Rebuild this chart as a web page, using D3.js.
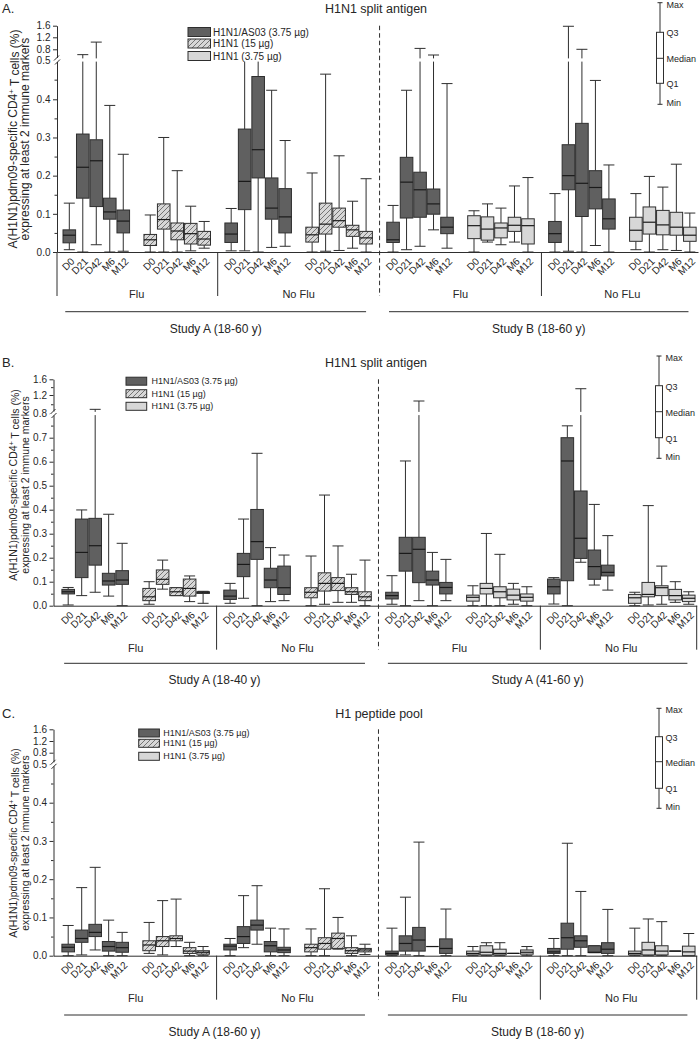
<!DOCTYPE html>
<html><head><meta charset="utf-8">
<script src="https://cdn.jsdelivr.net/npm/d3@7"></script>
<style>
body{margin:0;background:#fff}
svg{display:block}
text{font-family:"Liberation Sans",Arial,sans-serif;fill:#262626}
</style>
</head><body>
<svg id="chart" width="700" height="1040"></svg>
<script>
// ---------- labels ----------
const timepoints = ["D0","D21","D42","M6","M12"];
const vaccineNames = ["H1N1/AS03 (3.75 µg)","H1N1 (15 µg)","H1N1 (3.75 µg)"];
const panelLetters = ["A.","B.","C."];
const panelTitles = ["H1N1 split antigen","H1N1 split antigen","H1 peptide pool"];
const groupLabelsA = ["Flu","No Flu","Flu","No FLu"];
const groupLabelsBC = ["Flu","No Flu","Flu","No Flu"];
const studyLabelsA = ["Study A (18-60 y)","Study B (18-60 y)"];
const studyLabelsB = ["Study A (18-40 y)","Study A (41-60 y)"];
const studyLabelsC = ["Study A (18-60 y)","Study B (18-60 y)"];
const keyLabels = ["Max","Q3","Median","Q1","Min"];
const yLabelLine1 = ["A(H1N1)pdm09-specific CD4","+"," T cells (%)"];
const yLabelLine2 = "expressing at least 2 immune markers";
const majorTicksAC = [0,0.1,0.2,0.3,0.4,0.5,0.8,1.2,1.6];
const minorTicksAC = [0.05,0.15,0.25,0.35,0.45];
const majorTicksB = [0,0.1,0.2,0.3,0.4,0.5,0.6,0.7,0.8,1.2,1.6];
const minorTicksB = [0.05,0.15,0.25,0.35,0.45,0.55,0.65,0.75,1.0,1.4];

// ---------- data: [min, Q1, median, Q3, max] for D0, D21, D42, M6, M12 ----------
// Panel A
const A_studyA_flu_AS03   = [[0.006,0.024,0.044,0.058,0.128],[0.0,0.141,0.222,0.309,0.65],[0.019,0.119,0.239,0.294,1.04],[0.0,0.086,0.105,0.141,0.384],[0.002,0.05,0.081,0.11,0.256]];
const A_studyA_flu_15     = [[0.0,0.017,0.032,0.046,0.097],[0.0,0.06,0.085,0.126,0.3],[0.0,0.032,0.055,0.076,0.213],[0.003,0.021,0.048,0.075,0.12],[0.01,0.018,0.034,0.054,0.08]];
const A_studyA_noflu_AS03 = [[0.003,0.025,0.047,0.076,0.114],[0.003,0.111,0.185,0.322,0.6],[0.0,0.194,0.268,0.458,0.55],[0.012,0.086,0.115,0.194,0.423],[0.015,0.05,0.092,0.166,0.292]];
const A_studyA_noflu_15   = [[0.0,0.026,0.045,0.065,0.207],[0.002,0.047,0.073,0.128,0.464],[0.004,0.065,0.082,0.115,0.252],[0.01,0.041,0.058,0.07,0.133],[0.0,0.021,0.037,0.054,0.192]];
const A_studyB_flu_AS03   = [[0.0,0.025,0.032,0.078,0.122],[0.006,0.089,0.183,0.248,0.423],[0.015,0.091,0.163,0.209,0.83],[0.058,0.099,0.126,0.165,0.64],[0.01,0.048,0.065,0.091,0.44]];
const A_studyB_flu_375    = [[0.0,0.035,0.069,0.095,0.108],[0.026,0.031,0.06,0.092,0.126],[0.019,0.037,0.063,0.076,0.115],[0.026,0.054,0.07,0.091,0.173],[0.0,0.021,0.069,0.087,0.195]];
const A_studyB_noflu_AS03 = [[0.0,0.025,0.048,0.08,0.153],[0.002,0.163,0.2,0.281,1.58],[0.0,0.093,0.18,0.337,0.8],[0.017,0.113,0.169,0.213,0.448],[0.0,0.06,0.087,0.139,0.228]];
const A_studyB_noflu_375  = [[0.006,0.028,0.057,0.091,0.153],[0.0,0.047,0.078,0.118,0.198],[0.006,0.045,0.071,0.109,0.17],[0.004,0.044,0.065,0.104,0.23],[0.0,0.028,0.044,0.065,0.102]];
// Panel B
const B_young_flu_AS03    = [[0.003,0.049,0.058,0.068,0.076],[0.042,0.117,0.222,0.361,0.399],[0.056,0.169,0.25,0.364,0.89],[0.04,0.086,0.103,0.135,0.381],[0.0,0.089,0.107,0.146,0.26]];
const B_young_flu_15      = [[0.006,0.021,0.037,0.072,0.1],[0.069,0.089,0.11,0.149,0.19],[0.042,0.042,0.058,0.075,0.075],[0.017,0.04,0.072,0.111,0.124],[0.01,0.051,0.056,0.058,0.06]];
const B_young_noflu_AS03  = [[0.01,0.026,0.04,0.065,0.093],[0.031,0.121,0.172,0.218,0.361],[0.0,0.193,0.267,0.401,0.635],[0.017,0.075,0.107,0.156,0.242],[0.021,0.047,0.075,0.165,0.211]];
const B_young_noflu_15    = [[0.0,0.033,0.056,0.075,0.207],[0.006,0.061,0.093,0.137,0.461],[0.014,0.063,0.093,0.117,0.249],[0.014,0.047,0.058,0.075,0.131],[0.0,0.021,0.037,0.058,0.19]];
const B_old_flu_AS03      = [[0.006,0.028,0.042,0.056,0.125],[0.0,0.144,0.218,0.285,0.603],[0.021,0.096,0.235,0.285,1.07],[0.0,0.086,0.107,0.144,0.222],[0.021,0.049,0.076,0.097,0.193]];
const B_old_flu_375       = [[0.0,0.019,0.035,0.044,0.083],[0.0,0.049,0.072,0.093,0.301],[0.0,0.033,0.058,0.079,0.214],[0.006,0.024,0.044,0.069,0.093],[0.0,0.019,0.035,0.049,0.079]];
const B_old_noflu_AS03    = [[0.007,0.049,0.079,0.111,0.117],[0.0,0.104,0.603,0.7,0.749],[0.181,0.197,0.281,0.478,1.36],[0.086,0.11,0.163,0.232,0.422],[0.065,0.124,0.139,0.169,0.292]];
const B_old_noflu_375     = [[0.0,0.01,0.033,0.047,0.056],[0.003,0.037,0.047,0.097,0.417],[0.006,0.042,0.075,0.083,0.165],[0.014,0.024,0.042,0.068,0.1],[0.006,0.017,0.031,0.044,0.058]];
// Panel C
const C_studyA_flu_AS03   = [[0.0,0.01,0.022,0.03,0.079],[0.002,0.035,0.045,0.067,0.178],[0.015,0.05,0.061,0.082,0.231],[0.0,0.012,0.024,0.037,0.093],[0.0,0.009,0.021,0.035,0.061]];
const C_studyA_flu_15     = [[0.006,0.013,0.028,0.039,0.087],[0.002,0.024,0.039,0.05,0.144],[0.024,0.039,0.045,0.052,0.148],[0.0,0.006,0.012,0.021,0.035],[0.0,0.004,0.009,0.013,0.024]];
const C_studyA_noflu_AS03 = [[0.0,0.015,0.025,0.03,0.045],[0.021,0.032,0.05,0.076,0.157],[0.03,0.067,0.08,0.093,0.183],[0.0,0.01,0.026,0.037,0.072],[0.0,0.008,0.015,0.022,0.07]];
const C_studyA_noflu_15   = [[0.0,0.01,0.021,0.03,0.07],[0.0,0.017,0.032,0.047,0.175],[0.017,0.019,0.045,0.059,0.1],[0.0,0.006,0.013,0.021,0.052],[0.003,0.01,0.015,0.019,0.03]];
const C_studyB_flu_AS03   = [[0.0,0.002,0.006,0.012,0.072],[0.002,0.012,0.032,0.052,0.153],[0.0,0.012,0.041,0.074,0.297],[0.024,0.024,0.024,0.024,0.024],[0.0,0.006,0.019,0.044,0.122]];
const C_studyB_flu_375    = [[0.0,0.002,0.006,0.012,0.024],[0.0,0.002,0.009,0.026,0.034],[0.0,0.002,0.006,0.017,0.034],[0.006,0.006,0.006,0.006,0.006],[0.0,0.004,0.009,0.015,0.024]];
const C_studyB_noflu_AS03 = [[0.0,0.006,0.01,0.019,0.045],[0.0,0.017,0.047,0.085,0.294],[0.0,0.022,0.039,0.052,0.168],[0.008,0.008,0.009,0.026,0.026],[0.0,0.006,0.017,0.034,0.121]];
const C_studyB_noflu_375  = [[0.0,0.002,0.006,0.012,0.072],[0.0,0.002,0.015,0.035,0.096],[0.0,0.002,0.012,0.026,0.089],[0.012,0.012,0.012,0.012,0.012],[0.0,0.0,0.01,0.025,0.058]];

// ---------- drawing ----------
const svg = d3.select("#chart");
const defs = svg.append("defs");
const pat = defs.append("pattern").attr("id","hatch").attr("patternUnits","userSpaceOnUse")
  .attr("width",5).attr("height",5);
pat.append("rect").attr("width",5).attr("height",5).attr("fill","#d7d7d7");
pat.append("path").attr("d","M-1,1 L1,-1 M0,5 L5,0 M4,6 L6,4")
  .attr("stroke","#5a5a5a").attr("stroke-width",0.8);

const FILL = {dark:"#606060", hatch:"url(#hatch)", light:"#d7d7d7"};
const STROKE = "#2e2e2e";
const SPACING = 13.49;

const panels = [
  {letter:panelLetters[0], title:panelTitles[0], axisX:57, x0:69.3, xEnd:698,
   yDom:[0,0.4,0.5,0.8,1.2,1.6], yRange:[252,99.3,60,49.3,37.3,25.7], brk:0.5,
   major:majorTicksAC, minor:minorTicksAC,
   series:[A_studyA_flu_AS03,A_studyA_flu_15,A_studyA_noflu_AS03,A_studyA_noflu_15,
           A_studyB_flu_AS03,A_studyB_flu_375,A_studyB_noflu_AS03,A_studyB_noflu_375],
   types:["dark","hatch","dark","hatch","dark","light","dark","light"],
   groups:groupLabelsA, studies:studyLabelsA, leftSep:true, rightSep:false, underY:311.7,
   legend:{x:188,ys:[32,43.5,56],w:22.5,h:9,fs:10,tx:213,bg:true},
   key:{x:660,ys:[2.7,32.3,58.3,83.3,104.3]}, titleX:376, titleY:13, ylabY:139, ylabFs:12},
  {letter:panelLetters[1], title:panelTitles[1], axisX:53.5, x0:68.2, xEnd:696.7,
   yDom:[0,0.7,0.8,1.2,1.6], yRange:[605.7,437.7,413.5,395,379.3], brk:0.8,
   major:majorTicksB, minor:minorTicksB,
   series:[B_young_flu_AS03,B_young_flu_15,B_young_noflu_AS03,B_young_noflu_15,
           B_old_flu_AS03,B_old_flu_375,B_old_noflu_AS03,B_old_noflu_375],
   types:["dark","hatch","dark","hatch","dark","light","dark","light"],
   groups:groupLabelsBC, studies:studyLabelsB, leftSep:false, rightSep:true, underY:663.3,
   legend:{x:126,ys:[381.2,393.7,406.3],w:20.7,h:8,fs:9,tx:151.5,bg:false},
   key:{x:659,ys:[356,385.7,411.7,437.7,458.3]}, titleX:376, titleY:367, ylabY:485, ylabFs:10.5},
  {letter:panelLetters[2], title:panelTitles[2], axisX:53.5, x0:68.2, xEnd:696.7,
   yDom:[0,0.4,0.5,0.8,1.2,1.6], yRange:[955.7,802.7,764.3,752.7,741,729.3], brk:0.5,
   major:majorTicksAC, minor:minorTicksAC,
   series:[C_studyA_flu_AS03,C_studyA_flu_15,C_studyA_noflu_AS03,C_studyA_noflu_15,
           C_studyB_flu_AS03,C_studyB_flu_375,C_studyB_noflu_AS03,C_studyB_noflu_375],
   types:["dark","hatch","dark","hatch","dark","light","dark","light"],
   groups:groupLabelsBC, studies:studyLabelsC, leftSep:false, rightSep:true, underY:1015,
   legend:{x:138.7,ys:[733,743.3,756.3],w:20.7,h:8,fs:9,tx:163.3,bg:false},
   key:{x:659,ys:[708.3,736.7,761.7,788.3,808.3]}, titleX:379, titleY:718, ylabY:843, ylabFs:10.4}
];

function line(g, x1, y1, x2, y2, attrs) {
  const l = g.append("line").attr("x1",x1).attr("y1",y1).attr("x2",x2).attr("y2",y2)
    .attr("stroke",STROKE).attr("stroke-width",1);
  if (attrs) Object.entries(attrs).forEach(([k,v]) => l.attr(k,v));
  return l;
}

panels.forEach(p => {
  const g = svg.append("g");
  const y = d3.scaleLinear().domain(p.yDom).range(p.yRange);
  const sMin = (p.axisX - p.x0) / SPACING, sMax = (p.xEnd - p.x0) / SPACING;
  const x = d3.scaleLinear().domain([sMin, sMax]).range([p.axisX, p.xEnd]);
  const base = y(0), yb = y(p.brk), top = y(1.6);

  // panel letter + title
  g.append("text").attr("x",2).attr("y",p.titleY).attr("font-size",13).text(p.letter);
  g.append("text").attr("x",p.titleX).attr("y",p.titleY).attr("font-size",12.5)
    .attr("text-anchor","middle").text(p.title);

  // y-axis label
  const yl = g.append("text").attr("transform",`translate(17,${p.ylabY}) rotate(-90)`)
    .attr("text-anchor","middle").attr("font-size",p.ylabFs);
  yl.append("tspan").text(yLabelLine1[0]);
  yl.append("tspan").attr("dy","-0.45em").attr("font-size",p.ylabFs*0.65).text(yLabelLine1[1]);
  yl.append("tspan").attr("dy","0.45em").text(yLabelLine1[2]);
  g.append("text").attr("transform",`translate(29,${p.ylabY}) rotate(-90)`)
    .attr("text-anchor","middle").attr("font-size",p.ylabFs).text(yLabelLine2);

  // boxes
  const slotStart = [0,6,12,18,24,30,36,42];
  const bw = 12.6, cw = 11;
  p.series.forEach((arr, k) => {
    arr.forEach((d, i) => {
      const [mn,q1,md,q3,mx] = d;
      const cx = x(slotStart[k] + i);
      const bg = g.append("g");
      // upper whisker
      if (mx > p.brk) {
        line(bg, cx, y(q3), cx, yb + 1.6);
        line(bg, cx, yb - 1.6, cx, y(mx));
      } else line(bg, cx, y(q3), cx, y(mx));
      line(bg, cx - cw/2, y(mx), cx + cw/2, y(mx));
      // lower whisker
      line(bg, cx, y(q1), cx, y(mn));
      line(bg, cx - cw/2, y(mn), cx + cw/2, y(mn));
      // box
      bg.append("rect").attr("x",cx - bw/2).attr("y",y(q3)).attr("width",bw)
        .attr("height",Math.max(0, y(q1) - y(q3)))
        .attr("fill",FILL[p.types[k]]).attr("stroke",STROKE).attr("stroke-width",1);
      line(bg, cx - bw/2, y(md), cx + bw/2, y(md), {"stroke":"#1a1a1a","stroke-width":1.2});
    });
  });

  // y axis
  const yAxis = d3.axisLeft(y).tickValues(p.major).tickFormat(d3.format(".1f"))
    .tickSize(4).tickSizeOuter(0).tickPadding(2.5);
  const ya = g.append("g").attr("transform",`translate(${p.axisX},0)`).call(yAxis);
  ya.select(".domain").attr("stroke",STROKE);
  ya.selectAll(".tick line").attr("stroke",STROKE);
  ya.selectAll("text").attr("font-size",10).attr("font-family","'Liberation Sans',Arial,sans-serif").attr("fill","#2a2a2a");
  const ym = g.append("g").attr("transform",`translate(${p.axisX},0)`)
    .call(d3.axisLeft(y).tickValues(p.minor).tickSize(2.5).tickFormat(""));
  ym.select(".domain").remove();
  ym.selectAll(".tick line").attr("stroke",STROKE);
  // break marks
  g.append("rect").attr("x",p.axisX - 4).attr("y",yb - 2).attr("width",8).attr("height",4).attr("fill","#fff");
  line(g, p.axisX - 3, yb + 0.5, p.axisX + 2, yb - 4.5);
  line(g, p.axisX - 2, yb + 4.5, p.axisX + 3, yb - 0.5);

  // x axis
  const slots = slotStart.flatMap(s => d3.range(5).map(i => s + i));
  const xAxis = d3.axisBottom(x).tickValues(slots).tickFormat(v => timepoints[v % 6])
    .tickSize(0).tickSizeOuter(0);
  const xa = g.append("g").attr("transform",`translate(0,${base})`).call(xAxis);
  xa.select(".domain").attr("stroke",STROKE);
  xa.selectAll(".tick text").attr("y",0).attr("dy",null).attr("text-anchor","end")
    .attr("transform","translate(5.5,10) rotate(-45)")
    .attr("font-size",10).attr("font-family","'Liberation Sans',Arial,sans-serif").attr("fill","#2a2a2a");

  // separators
  [11,35].forEach(s => line(g, x(s), base, x(s), base + 44));
  line(g, x(23), top, x(23), base + 44, {"stroke-dasharray":"4.5,3"});
  if (p.leftSep) line(g, p.axisX, base, p.axisX, base + 44);
  if (p.rightSep) line(g, p.xEnd, base, p.xEnd, base + 44);

  // group labels
  [5,17,29,41].forEach((s, i) => {
    g.append("text").attr("x",x(s)).attr("y",base + 46).attr("font-size",11)
      .attr("text-anchor","middle").text(p.groups[i]);
  });
  // study underlines + labels
  [[-0.3,22],[23.7,45.9]].forEach((r, i) => {
    line(g, x(r[0]), p.underY, x(r[1]), p.underY);
    g.append("text").attr("x",(x(r[0]) + x(r[1]))/2).attr("y",p.underY + 21)
      .attr("font-size",12).attr("text-anchor","middle").text(p.studies[i]);
  });

  // legend
  const L = p.legend;
  if (L.bg) g.append("rect").attr("x",L.x - 2).attr("y",L.ys[0] - 6)
    .attr("width",126).attr("height",L.ys[2] - L.ys[0] + 11).attr("fill","#fff");
  ["dark","hatch","light"].forEach((t, i) => {
    g.append("rect").attr("x",L.x).attr("y",L.ys[i] - L.h/2).attr("width",L.w).attr("height",L.h)
      .attr("fill",FILL[t]).attr("stroke",STROKE).attr("stroke-width",1);
    g.append("text").attr("x",L.tx).attr("y",L.ys[i]).attr("dy","0.35em")
      .attr("font-size",L.fs).text(vaccineNames[i]);
  });

  // key
  const K = p.key;
  line(g, K.x, K.ys[0], K.x, K.ys[4]);
  line(g, K.x - 2.5, K.ys[0], K.x + 2.5, K.ys[0]);
  line(g, K.x - 2.5, K.ys[4], K.x + 2.5, K.ys[4]);
  g.append("rect").attr("x",K.x - 3.5).attr("y",K.ys[1]).attr("width",7)
    .attr("height",K.ys[3] - K.ys[1]).attr("fill","#fff").attr("stroke",STROKE);
  line(g, K.x - 3.5, K.ys[2], K.x + 3.5, K.ys[2]);
  keyLabels.forEach((t, i) => {
    const off = i === 0 ? 2 : (i === 4 ? -1 : 1);
    g.append("text").attr("x",K.x + 6.5).attr("y",K.ys[i] + off).attr("dy","0.35em")
      .attr("font-size",9).text(t);
  });
});
</script>
</body></html>
